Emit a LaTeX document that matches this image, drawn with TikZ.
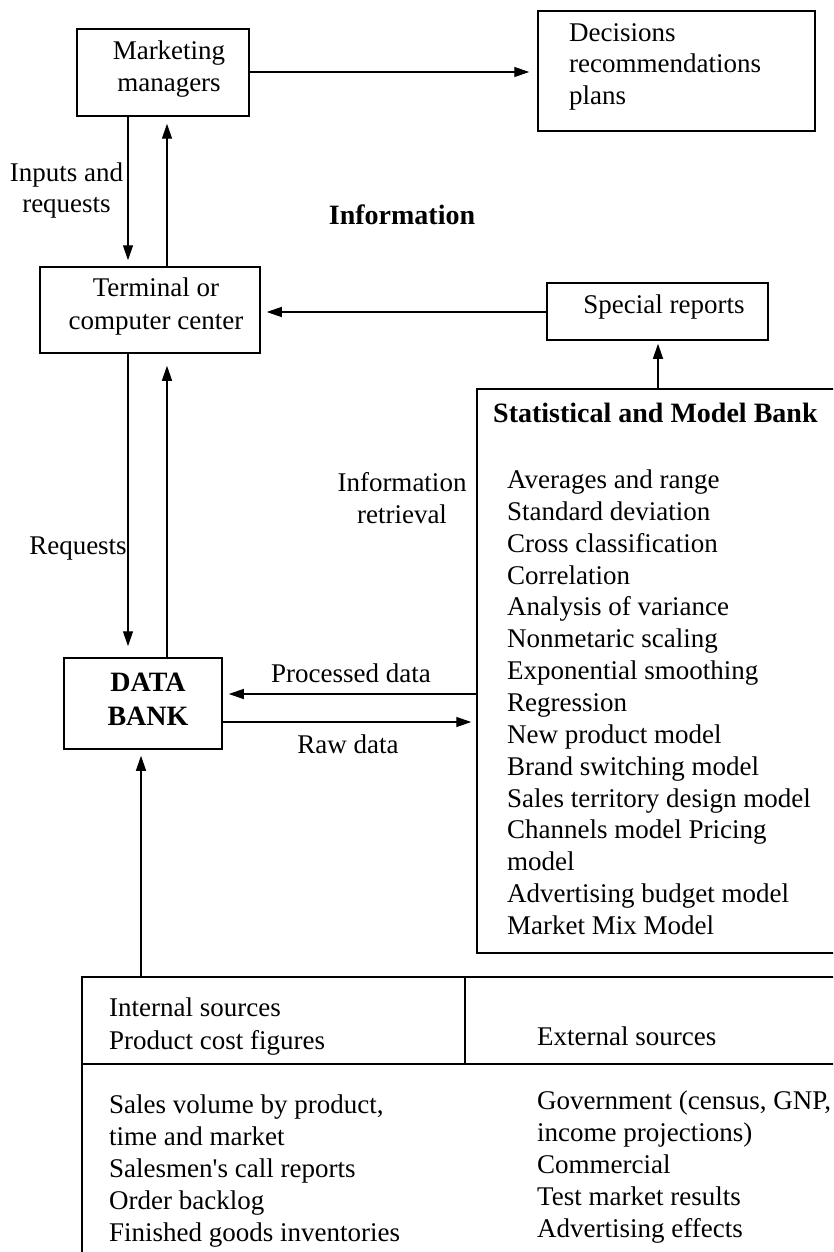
\documentclass[tikz,border=0pt]{standalone}
\usepackage{fontspec}
\setmainfont{Liberation Serif}
\usetikzlibrary{arrows.meta}
\begin{document}
\begin{tikzpicture}[x=1pt,y=-1pt,
  bx/.style={draw,line width=1.5pt,inner sep=0pt},
  arr/.style={line width=1.3pt,-{Triangle[length=15pt,width=10pt]}},
  txt/.style={inner sep=0pt,font=\fontsize{27}{32}\selectfont,text height=19pt,text depth=6pt},
  btxt/.style={txt,font=\fontsize{28}{32}\selectfont\bfseries}]
\useasboundingbox (0,0) rectangle (833,1252);
\clip (0,0) rectangle (833,1252);
% boxes
\node[bx,minimum width=172pt,minimum height=87pt] (mm) at (163,72.5) {};
\node[bx,minimum width=277pt,minimum height=120pt] (dec) at (676.5,71) {};
\node[bx,minimum width=220pt,minimum height=86pt] (term) at (150,310) {};
\node[bx,minimum width=221pt,minimum height=57pt] (spec) at (657.5,311.5) {};
\node[bx,minimum width=368pt,minimum height=564pt] (stat) at (661,671) {};
\node[bx,minimum width=158pt,minimum height=91pt] (db) at (143,703.5) {};
\node[bx,minimum width=768pt,minimum height=293pt] (tbl) at (466,1123.5) {};
\draw[line width=1.5pt] (465,977) -- (465,1064);
\draw[line width=1.5pt] (82,1064) -- (850,1064);
% texts in boxes
\node[txt] (mmt1) at (169,53) {Marketing};
\node[txt] (mmt2) at (169,85) {managers};
\node[txt,anchor=west] (dt1) at (569,35) {Decisions};
\node[txt,anchor=west] (dt2) at (569,66) {recommendations};
\node[txt,anchor=west] (dt3) at (569,98) {plans};
\node[txt] (tt1) at (156,290) {Terminal or};
\node[txt] (tt2) at (156,323) {computer center};
\node[txt] (st) at (664,307) {Special reports};
\node[btxt] (dbt1) at (148,685) {DATA};
\node[btxt] (dbt2) at (148,719) {BANK};
\node[btxt,anchor=west] (stt) at (493,416) {Statistical and Model Bank};
\foreach \t [count=\i from 0] in {Averages and range,Standard deviation,Cross classification,Correlation,Analysis of variance,Nonmetaric scaling,Exponential smoothing,Regression,New product model,Brand switching model,Sales territory design model,Channels model Pricing,model,Advertising budget model,Market Mix Model}
  \node[txt,anchor=west] (si\i) at (507,482+31.86*\i) {\t};
\node[txt,anchor=west] (in1) at (109,1010) {Internal sources};
\node[txt,anchor=west] (in2) at (109,1043) {Product cost figures};
\node[txt,anchor=west] (ex) at (537,1039) {External sources};
\foreach \t [count=\i from 0] in {{Sales volume by product,},time and market,Salesmen\textquotesingle s call reports,Order backlog,Finished goods inventories}
  \node[txt,anchor=west] (li\i) at (109,1107+32*\i) {\t};
\foreach \t [count=\i from 0] in {{Government (census, GNP,},income projections),Commercial,Test market results,Advertising effects}
  \node[txt,anchor=west] (ri\i) at (537,1103+32*\i) {\t};
% free labels
\node[txt] (ia1) at (66.5,175) {Inputs and};
\node[txt] (ia2) at (66.5,206) {requests};
\node[btxt] (info) at (402,218) {Information};
\node[txt] (req) at (78,548) {Requests};
\node[txt] (ir1) at (402,485) {Information};
\node[txt] (ir2) at (402,517) {retrieval};
\node[txt] (pd) at (351,676) {Processed data};
\node[txt] (rd) at (348,747) {Raw data};
% connectors
\coordinate (xL) at (128,0); \coordinate (xR) at (167,0);
\coordinate (yM) at (0,72); \coordinate (yS) at (0,312);
\coordinate (yP) at (0,694); \coordinate (yR) at (0,722);
\coordinate (xS) at (658,0); \coordinate (xT) at (141,0);
\draw[arr,shorten >=8pt] (mm.east |- yM) -- (dec.west |- yM);
\draw[arr,shorten >=6pt] (mm.south -| xL) -- (term.north -| xL);
\draw[arr,shorten >=7pt] (term.north -| xR) -- (mm.south -| xR);
\draw[arr,shorten >=6pt] (spec.west |- yS) -- (term.east |- yS);
\draw[arr,shorten >=3pt] (stat.north -| xS) -- (spec.south -| xS);
\draw[arr,shorten >=11pt] (term.south -| xL) -- (db.north -| xL);
\draw[arr,shorten >=12pt] (db.north -| xR) -- (term.south -| xR);
\draw[arr,shorten >=6pt] (stat.west |- yP) -- (db.east |- yP);
\draw[arr,shorten >=5pt] (db.east |- yR) -- (stat.west |- yR);
\draw[arr,shorten >=6pt] (tbl.north -| xT) -- (db.south -| xT);
\end{tikzpicture}
\end{document}
